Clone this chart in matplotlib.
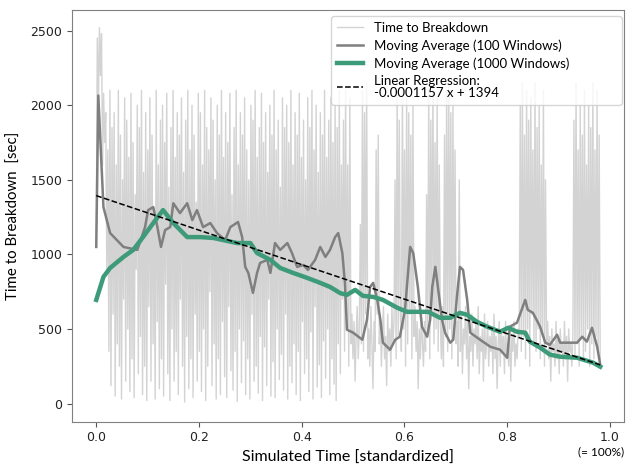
import numpy as np
import matplotlib
matplotlib.use('Agg')
import matplotlib.pyplot as plt
import matplotlib.transforms as mtransforms

# raw time to breakdown (hand typed)
raw_ttb = [
    # first half: wide swings
    1050, 2450, 1980, 2520, 2200, 2480, 1600, 2080, 1750, 1950,
    900, 1700, 350, 2100, 120, 1850, 600, 1950, 50, 1600,
    400, 2100, 250, 1800, 30, 1500, 700, 2050, 150, 1900,
    500, 1650, 80, 2080, 300, 1750, 40, 1400, 900, 2000,
    200, 1850, 450, 2100, 60, 1550, 250, 1950, 20, 1700,
    650, 2050, 150, 1800, 400, 1300, 30, 2100, 550, 1600,
    100, 1900, 300, 2000, 50, 1750, 800, 2080, 200, 1450,
    20, 1850, 500, 2100, 150, 1650, 350, 1950, 60, 1800,
    700, 2050, 250, 1550, 10, 1900, 450, 2100, 100, 1700,
    300, 2000, 40, 1800, 600, 1350, 150, 2080, 350, 1950,
    80, 1600, 500, 2100, 20, 1850, 250, 1700, 750, 2050,
    120, 1900, 400, 1500, 30, 2000, 300, 1800, 60, 2100,
    550, 1650, 180, 1950, 40, 1750, 650, 2080, 220, 1400,
    90, 1850, 350, 2100, 15, 1600, 500, 1950, 140, 1800,
    420, 2050, 60, 1700, 300, 1500, 30, 2000, 600, 1900,
    150, 2100, 250, 1650, 70, 1850, 450, 2080, 20, 1750,
    380, 1950, 120, 1550, 700, 2000, 50, 1800, 280, 2100,
    40, 1700, 500, 1900, 160, 1450, 330, 2050, 90, 1850,
    600, 2000, 30, 1750, 250, 2100, 140, 1600, 400, 1950,
    60, 1800, 350, 2080, 20, 1650, 550, 1900, 200, 1500,
    300, 2050, 80, 1850, 480, 2100, 30, 1700, 650, 2000,
    110, 1550, 260, 1950, 40, 1800, 420, 2100, 170, 1650,
    500, 1900, 60, 2050, 300, 1750, 130, 2000, 20, 1850,
    400, 2100, 200, 1600, 700,
    # second half: lower base with bursts
    1900, 350, 2100, 500, 1600, 250, 2050, 400, 600, 300,
    550, 150, 450, 650, 300, 500, 1200, 400, 2100, 350,
    1950, 600, 2150, 300, 500, 250, 650, 400, 100, 550,
    350, 1700, 600, 1800, 400, 550, 250, 500, 650, 300,
    450, 120, 600, 350, 500, 250, 650, 400, 550, 1500,
    300, 2100, 450, 1900, 600, 350, 2150, 500, 1700, 250,
    2100, 400, 1950, 600, 1800, 300, 2000, 450, 650, 350,
    550, 100, 500, 300, 600, 400, 250, 550, 350, 1400,
    450, 2100, 300, 1900, 600, 2150, 400, 1750, 500, 2050,
    350, 1600, 550, 300, 650, 250, 1800, 450, 2100, 350,
    2150, 500, 1950, 300, 2000, 600, 1700, 400, 550, 250,
    1500, 350, 600, 200, 500, 400, 650, 300, 550, 100,
    450, 350, 600, 250, 500, 400, 550, 300, 650, 200,
    450, 350, 500, 150, 600, 300, 400, 550, 250, 450,
    350, 500, 200, 600, 300, 450, 100, 400, 550, 250,
    500, 350, 450, 200, 550, 300, 400, 250, 500, 150,
    450, 350, 550, 250, 400, 300, 500, 450, 2000, 350,
    2150, 450, 1800, 300, 2100, 500, 1900, 250, 2050, 600,
    1700, 400, 2150, 350, 1850, 500, 2000, 300, 1600, 450,
    2100, 250, 1500, 400, 550, 300, 450, 150, 500, 350,
    400, 250, 550, 300, 450, 200, 500, 350, 400, 250,
    550, 300, 450, 150, 500, 350, 400, 250, 450, 1900,
    300, 2150, 400, 1700, 250, 2000, 450, 1800, 300, 2100,
    350, 1600, 500, 2000, 250, 1850, 400, 2150, 300, 1700,
    450, 2100, 350, 1800, 250,
]
x_end = 0.981

# moving average over 100 windows
ma100_x = [0.000, 0.004, 0.014, 0.027, 0.053, 0.080, 0.095, 0.101, 0.111, 0.119,
           0.126, 0.134, 0.144, 0.150, 0.163, 0.177, 0.187, 0.196, 0.208, 0.222,
           0.235, 0.251, 0.261, 0.276, 0.284, 0.290, 0.296, 0.305, 0.313, 0.319,
           0.333, 0.339, 0.348, 0.358, 0.372, 0.381, 0.391, 0.403, 0.412, 0.426,
           0.436, 0.446, 0.455, 0.465, 0.471, 0.479, 0.484, 0.488, 0.500, 0.518,
           0.527, 0.533, 0.539, 0.547, 0.553, 0.558, 0.572, 0.582, 0.591, 0.601,
           0.611, 0.617, 0.626, 0.634, 0.644, 0.650, 0.654, 0.660, 0.665, 0.673,
           0.679, 0.689, 0.695, 0.702, 0.708, 0.714, 0.722, 0.728, 0.747, 0.767,
           0.786, 0.800, 0.805, 0.819, 0.835, 0.840, 0.850, 0.864, 0.874, 0.883,
           0.897, 0.903, 0.936, 0.946, 0.955, 0.965, 0.975, 0.981]
ma100_y = [1050, 2065, 1317, 1143, 1050, 1030, 1183, 1297, 1317, 1183,
           1050, 1163, 1183, 1343, 1277, 1343, 1230, 1297, 1183, 1210,
           1143, 1096, 1183, 1217, 1116, 916, 876, 742, 876, 943,
           963, 876, 1076, 1030, 1076, 1009, 916, 929, 896, 963,
           1050, 983, 1030, 1116, 1143, 1009, 809, 495, 475, 428,
           562, 782, 809, 695, 562, 408, 361, 428, 448, 628,
           1050, 1009, 782, 515, 448, 562, 782, 916, 782, 562,
           475, 408, 428, 715, 916, 896, 695, 475, 428, 381,
           361, 307, 515, 542, 695, 628, 608, 515, 408, 394,
           461, 408, 408, 448, 415, 508, 381, 260]

# moving average over 1000 windows
ma1000_x = [0.000, 0.014, 0.027, 0.053, 0.072, 0.091, 0.111, 0.130, 0.150, 0.177,
            0.202, 0.228, 0.247, 0.274, 0.300, 0.313, 0.339, 0.358, 0.383, 0.411,
            0.436, 0.455, 0.475, 0.488, 0.504, 0.519, 0.539, 0.558, 0.586, 0.605,
            0.646, 0.669, 0.689, 0.708, 0.722, 0.741, 0.761, 0.786, 0.802, 0.819,
            0.835, 0.844, 0.864, 0.883, 0.903, 0.936, 0.967, 0.981]
ma1000_y = [695, 849, 909, 983, 1030, 1116, 1210, 1297, 1210, 1116,
            1116, 1110, 1096, 1076, 1076, 1009, 963, 909, 876, 842,
            809, 782, 740, 729, 762, 722, 715, 695, 642, 615,
            615, 575, 575, 608, 595, 548, 515, 481, 508, 481,
            475, 415, 375, 328, 314, 307, 274, 247]

# linear regression from the legend: -0.0001157 x + 1394 (x in raw sim time)
reg_slope = -0.0001157
reg_icpt = 1394
sim_time_max = 1.0e7

raw_x = np.linspace(0, x_end, len(raw_ttb))
reg_x = np.array([0.0, x_end])
reg_y = reg_slope * reg_x * sim_time_max + reg_icpt

label_font = 'Lato'

fig = plt.figure(figsize=(6.27, 4.67), dpi=100)
ax = fig.add_axes([0.115, 0.096, 0.88, 0.883])

ax.plot(raw_x, raw_ttb, color='#d3d3d3', lw=1.0, label='Time to Breakdown')
ax.plot(ma100_x, ma100_y, color='#7f7f7f', lw=1.8, label='Moving Average (100 Windows)')
ax.plot(ma1000_x, ma1000_y, color='#3e9b7a', lw=3.2, label='Moving Average (1000 Windows)')
ax.plot(reg_x, reg_y, color='black', lw=1.1, ls='--',
        label='Linear Regression:\n-0.0001157 x + 1394')

ax.set_xlim(-0.047, 1.027)
ax.set_ylim(-125, 2640)
ax.set_xticks([0.0, 0.2, 0.4, 0.6, 0.8, 1.0])
ax.set_yticks([0, 500, 1000, 1500, 2000, 2500])
ax.tick_params(labelsize=9, color='#555555', labelcolor='#222222')
ax.tick_params(axis='x', pad=2.5)
for s in ax.spines.values():
    s.set_color('#808080')

ax.set_xlabel('Simulated Time [standardized]', fontsize=11.5, family=label_font, labelpad=5)
ax.set_ylabel('Time to Breakdown  [sec]', fontsize=10.8, family=label_font, labelpad=7)

trans = mtransforms.blended_transform_factory(ax.transData, ax.transAxes)
ax.text(0.982, -0.058, '(= 100%)', transform=trans, ha='center', va='top',
        fontsize=8.5, family=label_font)

leg = ax.legend(loc='upper right', bbox_to_anchor=(0.469, 0.0, 0.527, 0.985),
                mode='expand', borderaxespad=0, borderpad=0.45,
                prop={'family': label_font, 'size': 9.5},
                handlelength=2.0, labelspacing=0.4)
for t in leg.get_texts():
    t.set_linespacing(1.0)

plt.savefig('out.png', dpi=100)
